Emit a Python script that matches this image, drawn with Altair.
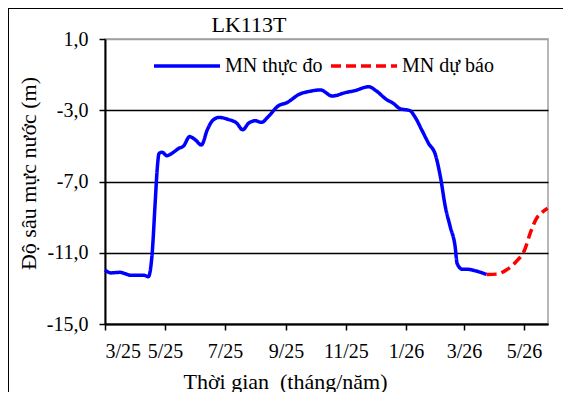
import altair as alt
import pandas as pd

OBS = "MN thực đo"
FC = "MN dự báo"
TITLE = "LK113T"

obs_dates = [
    "2025-03-01", "2025-03-07", "2025-03-16", "2025-03-28", "2025-04-10", "2025-04-14",
    "2025-04-18", "2025-04-21", "2025-04-23", "2025-04-25", "2025-04-28", "2025-05-03",
    "2025-05-08", "2025-05-15", "2025-05-20", "2025-05-26", "2025-06-01", "2025-06-07",
    "2025-06-13", "2025-06-18", "2025-06-25", "2025-07-04", "2025-07-13", "2025-07-19",
    "2025-07-25", "2025-08-01", "2025-08-07", "2025-08-14", "2025-08-24", "2025-09-02",
    "2025-09-15", "2025-09-25", "2025-10-06", "2025-10-18", "2025-11-01", "2025-11-10",
    "2025-11-24", "2025-12-02", "2025-12-12", "2025-12-19", "2025-12-26", "2026-01-05",
    "2026-01-10", "2026-01-17", "2026-01-24", "2026-01-31", "2026-02-05", "2026-02-10",
    "2026-02-15", "2026-02-20", "2026-02-22", "2026-02-27", "2026-03-05", "2026-03-13",
    "2026-03-24",
]
obs_values = [
    -11.97, -12.13, -12.10, -12.27, -12.27, -12.35,
    -11.00, -8.20, -6.36, -5.42, -5.36, -5.55,
    -5.42, -5.14, -5.00, -4.48, -4.67, -4.95,
    -4.10, -3.60, -3.40, -3.51, -3.73, -4.10,
    -3.73, -3.59, -3.68, -3.36, -2.76, -2.57,
    -2.09, -1.94, -1.86, -2.20, -2.00, -1.90,
    -1.68, -1.92, -2.39, -2.61, -2.91, -3.02,
    -3.36, -4.10, -4.86, -5.51, -6.73, -8.41,
    -9.54, -10.66, -11.60, -11.92, -11.93, -12.02,
    -12.22,
]

fc_dates = [
    "2026-03-24", "2026-04-03", "2026-04-13", "2026-04-23", "2026-05-02",
    "2026-05-07", "2026-05-14", "2026-05-19", "2026-05-25",
]
fc_values = [-12.22, -12.20, -11.97, -11.50, -10.80, -9.95, -9.05, -8.75, -8.50]

y_ticks = [1, -3, -7, -11, -15]
x_tick_months = [(2025, 3), (2025, 5), (2025, 7), (2025, 9), (2025, 11),
                 (2026, 1), (2026, 3), (2026, 5)]

df = pd.DataFrame({
    "date": [d + "T00:00:00" for d in obs_dates] + [d + "T00:00:00" for d in fc_dates],
    "value": obs_values + fc_values,
    "series": [OBS] * len(obs_values) + [FC] * len(fc_values),
})

FONT = "Liberation Serif"

leg = alt.Legend(
    orient="none", legendX=47, legendY=-8, direction="horizontal", title=None,
    symbolType="stroke", symbolSize=4356, symbolStrokeWidth=3.5,
    labelFont=FONT, labelFontSize=20, labelColor="black", labelOffset=3,
    columnPadding=1, padding=0,
)

x_enc = alt.X(
    "date:T",
    scale=alt.Scale(domain=[alt.DateTime(year=2025, month=3, date=1),
                            alt.DateTime(year=2026, month=5, date=25, hours=10)]),
    axis=alt.Axis(
        values=[alt.DateTime(year=y, month=m, date=1) for y, m in x_tick_months],
        format="%-m/%y", title="Thời gian\u00a0 (tháng/năm)", grid=False,
        titleX=180, titleY=47, titleBaseline="top", titleAlign="center",
    ),
)
y_enc = alt.Y(
    "value:Q",
    scale=alt.Scale(domain=[-15, 1], nice=False, zero=False),
    axis=alt.Axis(
        values=y_ticks, title="Độ sâu mực nước (m)",
        labelExpr="(datum.value < 0 ? '-' : '') + replace(format(abs(datum.value), '.1f'), '.', ',')",
        grid=True, gridWidth=1.5,
        gridColor=alt.condition("datum.value == 1", alt.value("#a0a0a0"), alt.value("black")),
        titleX=-77, titleY=134, titleBaseline="middle", titleAlign="center", titleAngle=-90,
    ),
)

lines = alt.Chart(df).mark_line(strokeWidth=3.5, interpolate="monotone").encode(
    x=x_enc,
    y=y_enc,
    color=alt.Color("series:N", scale=alt.Scale(domain=[OBS, FC], range=["#0000ff", "#ff0000"]), legend=leg),
    strokeDash=alt.StrokeDash("series:N", scale=alt.Scale(domain=[OBS, FC], range=[[1, 0], [10, 5]]), legend=leg),
    order=alt.Order("date:T"),
)

title_text = alt.Chart(pd.DataFrame({"t": [TITLE]})).mark_text(
    font=FONT, fontSize=22, color="black", baseline="alphabetic", align="center"
).encode(text="t:N", x=alt.value(144), y=alt.value(-7))

frame_top = alt.Chart(df).mark_rule(color="black", strokeWidth=1).encode(
    x=alt.value(-96.5), x2=alt.value(480), y=alt.value(-30.5)
)
frame_left = alt.Chart(df).mark_rule(color="black", strokeWidth=1).encode(
    x=alt.value(-96.5), y=alt.value(-30.5), y2=alt.value(360)
)

chart = alt.layer(lines, title_text, frame_top, frame_left).properties(
    width=443, height=285,
    padding={"left": 97, "top": 31, "right": 15, "bottom": 68},
    autosize=alt.AutoSizeParams(type="none"),
).configure_view(
    stroke="#a0a0a0", strokeWidth=1.5
).configure_axis(
    labelFont=FONT, labelFontSize=20, labelColor="black",
    titleFont=FONT, titleFontSize=22, titleColor="black", titleFontWeight="normal",
    tickColor="black", tickSize=6, tickWidth=1.5,
    domainColor="black", domainWidth=2, labelPadding=11,
)

chart.save("out.html", embed_options={"renderer": "svg", "actions": False})
